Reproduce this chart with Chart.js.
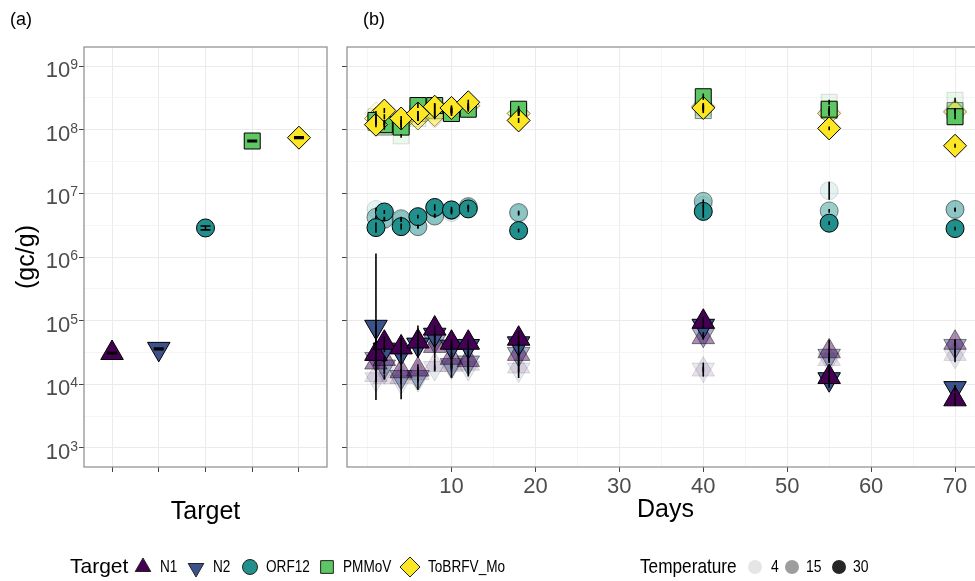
<!DOCTYPE html>
<html lang="en">
<head>
<meta charset="UTF-8">
<title>Concentration by target and day</title>
<script src="https://cdn.jsdelivr.net/npm/chart.js@4.4.1/dist/chart.umd.min.js"></script>
<style>
  body { margin: 0; background: #fff; width: 975px; height: 581px; overflow: hidden; position: relative; }
  canvas { position: absolute; top: 0; }
  #chartA { left: 0; }
  #chartB { left: 340px; }
</style>
</head>
<body>
<canvas id="chartA" width="975" height="581"></canvas>
<canvas id="chartB" width="644" height="540"></canvas>
<script>
// ---- data ----
const TARGETS = ['N1', 'N2', 'ORF12', 'PMMoV', 'ToBRFV_Mo'];
const TEMPS = [4, 15, 30];
const DAYS = [1, 2, 4, 6, 8, 10, 12, 18, 40, 55, 70];
const DAY_TICKS = [10, 20, 30, 40, 50, 60, 70];
const EXPONENTS = [3, 4, 5, 6, 7, 8, 9];

// panel (a): initial concentration per target, error as log10 half range
const initialValues = [3.1e4, 3.6e4, 2.86e6, 6.65e7, 7.5e7];
const initialErr = [0.012, 0.012, 0.03, 0.012, 0.012];

// panel (b): gc/g per day, one list per target and temperature
const n1_4 = [1.4e4, 1.3e4, 1.3e4, 1.5e4, 2.0e4, 2.0e4, 2.1e4, 1.9e4, 1.7e4, 2.5e4, 3.0e4];
const n1_15 = [2.2e4, 2.5e4, 1.6e4, 1.7e4, 4.0e4, 2.6e4, 2.4e4, 3.0e4, 5.5e4, 3.3e4, 4.5e4];
const n1_30 = [3.0e4, 4.5e4, 3.8e4, 4.7e4, 7.5e4, 4.5e4, 4.5e4, 5.2e4, 9.6e4, 1.3e4, 5.8e3];
const n2_4 = [1.2e4, 1.6e4, 1.1e4, 1.2e4, 1.8e4, 1.9e4, 1.8e4, 1.7e4, 1.7e4, 2.4e4, 2.8e4];
const n2_15 = [2.5e4, 1.9e4, 1.3e4, 1.3e4, 4.8e4, 2.0e4, 2.2e4, 3.0e4, 6.0e4, 2.8e4, 4.0e4];
const n2_30 = [8.0e4, 3.5e4, 3.2e4, 4.2e4, 6.0e4, 3.9e4, 4.0e4, 4.4e4, 8.3e4, 1.2e4, 8.7e3];
const orf_4 = [5.6e6, 4.0e6, 3.8e6, 3.0e6, 4.5e6, 5.0e6, 6.0e6, 4.8e6, 6.5e6, 1.1e7, 5.5e6];
const orf_15 = [4.2e6, 3.9e6, 4.0e6, 3.0e6, 4.4e6, 5.4e6, 6.2e6, 5.0e6, 7.5e6, 5.3e6, 5.6e6];
const orf_30 = [2.9e6, 5.1e6, 3.0e6, 4.3e6, 6.0e6, 5.5e6, 5.7e6, 2.6e6, 5.2e6, 3.4e6, 2.8e6];
const pmm_4 = [1.6e8, 1.3e8, 8.0e7, 1.5e8, 1.9e8, 2.0e8, 2.2e8, 1.9e8, 2.2e8, 2.7e8, 2.9e8];
const pmm_15 = [1.3e8, 1.1e8, 1.2e8, 1.8e8, 2.0e8, 1.9e8, 2.2e8, 2.0e8, 2.0e8, 2.0e8, 2.0e8];
const pmm_30 = [1.4e8, 1.2e8, 1.1e8, 2.4e8, 2.4e8, 1.8e8, 2.1e8, 2.1e8, 3.3e8, 2.1e8, 1.6e8];
const tob_4 = [1.8e8, 1.3e8, 1.3e8, 1.5e8, 1.6e8, 2.0e8, 2.3e8, 1.8e8, 2.4e8, 1.9e8, 2.0e8];
const tob_15 = [1.5e8, 1.6e8, 1.3e8, 1.5e8, 1.7e8, 2.1e8, 2.4e8, 1.8e8, 2.3e8, 1.8e8, 1.9e8];
const tob_30 = [1.2e8, 2.0e8, 1.5e8, 1.8e8, 2.3e8, 2.2e8, 2.7e8, 1.4e8, 2.2e8, 1.05e8, 5.6e7];

// error bars, log10 half range
const n1_4_err = [0.04, 0.04, 0.04, 0.04, 0.10, 0.20, 0.20, 0.18, 0.11, 0.04, 0.04];
const n1_15_err = [0.04, 0.04, 0.04, 0.04, 0.20, 0.20, 0.20, 0.20, 0.04, 0.18, 0.05];
const n1_30_err = [0.45, 0.10, 0.15, 0.25, 0.05, 0.05, 0.05, 0.12, 0.08, 0.17, 0.10];
const n2_4_err = [0.04, 0.04, 0.04, 0.04, 0.04, 0.04, 0.04, 0.04, 0.04, 0.04, 0.10];
const n2_15_err = [0.04, 0.12, 0.35, 0.20, 0.10, 0.04, 0.04, 0.04, 0.04, 0.04, 0.10];
const n2_30_err = [1.15, 0.04, 0.04, 0.15, 0.04, 0.05, 0.04, 0.04, 0.04, 0.04, 0.05];
const orf_4_err = [0.03, 0.03, 0.03, 0.03, 0.03, 0.03, 0.03, 0.03, 0.03, 0.14, 0.03];
const orf_15_err = [0.03, 0.03, 0.03, 0.03, 0.03, 0.03, 0.03, 0.03, 0.03, 0.03, 0.03];
const orf_30_err = [0.08, 0.03, 0.05, 0.03, 0.05, 0.05, 0.05, 0.03, 0.10, 0.03, 0.03];
const pmm_4_err = [0.04, 0.04, 0.03, 0.04, 0.04, 0.04, 0.04, 0.04, 0.04, 0.04, 0.04];
const pmm_15_err = [0.04, 0.04, 0.04, 0.04, 0.04, 0.04, 0.04, 0.04, 0.04, 0.04, 0.04];
const pmm_30_err = [0.04, 0.04, 0.04, 0.04, 0.04, 0.04, 0.04, 0.05, 0.05, 0.05, 0.04];
const tob_4_err = [0.04, 0.04, 0.04, 0.04, 0.04, 0.04, 0.04, 0.04, 0.04, 0.04, 0.04];
const tob_15_err = [0.04, 0.04, 0.04, 0.04, 0.04, 0.04, 0.04, 0.04, 0.04, 0.04, 0.04];
const tob_30_err = [0.04, 0.04, 0.04, 0.04, 0.04, 0.04, 0.04, 0.04, 0.05, 0.03, 0.03];

const series = {
  N1: { 4: [n1_4, n1_4_err], 15: [n1_15, n1_15_err], 30: [n1_30, n1_30_err] },
  N2: { 4: [n2_4, n2_4_err], 15: [n2_15, n2_15_err], 30: [n2_30, n2_30_err] },
  ORF12: { 4: [orf_4, orf_4_err], 15: [orf_15, orf_15_err], 30: [orf_30, orf_30_err] },
  PMMoV: { 4: [pmm_4, pmm_4_err], 15: [pmm_15, pmm_15_err], 30: [pmm_30, pmm_30_err] },
  ToBRFV_Mo: { 4: [tob_4, tob_4_err], 15: [tob_15, tob_15_err], 30: [tob_30, tob_30_err] }
};

// ---- style ----
const FONT = "'Liberation Sans', Arial, sans-serif";
const GREY_TEXT = '#4d4d4d';
const Y_MIN = Math.pow(10, 2.7), Y_MAX = Math.pow(10, 9.3);
const colors = { N1: '68,1,84', N2: '59,82,139', ORF12: '33,144,140', PMMoV: '93,200,99', ToBRFV_Mo: '253,231,37' };
const shapes = {
  N1: ['triangle', 0, 13], N2: ['triangle', 180, 13], ORF12: ['circle', 0, 9],
  PMMoV: ['rect', 0, 11.3], ToBRFV_Mo: ['rectRot', 0, 11.5]
};
const alphaFor = { 4: 0.12, 15: 0.45, 30: 1 };

Chart.defaults.font.family = FONT;
Chart.defaults.animation = false;

function rgba(rgb, a) { return 'rgba(' + rgb + ',' + a + ')'; }

function pointStyle(t, a) {
  const s = shapes[t];
  return {
    pointStyle: s[0], pointRotation: s[1], pointRadius: s[2], pointHoverRadius: s[2],
    backgroundColor: rgba(colors[t], a), borderColor: rgba('0,0,0', a), borderWidth: 1
  };
}

function gridStyle() {
  return {
    color: c => (c.tick && c.tick.main) ? '#ebebeb' : '#f3f3f3',
    lineWidth: c => (c.tick && c.tick.main) ? 1 : 0.8,
    tickColor: c => (c.tick && c.tick.main) ? '#444' : 'rgba(0,0,0,0)',
    tickLength: 5
  };
}

function yAxis(width, title) {
  return {
    type: 'logarithmic', min: Y_MIN, max: Y_MAX,
    afterBuildTicks: s => {
      const t = [];
      for (let e = 3; e <= 9; e += 0.5) t.push({ value: Math.pow(10, e), main: Number.isInteger(e) });
      s.ticks = t;
    },
    afterFit: s => { s.width = width; s.paddingTop = 0; s.paddingBottom = 0; },
    ticks: { display: false },
    grid: gridStyle(),
    border: { display: false },
    title: title
  };
}

// bottom axis boxes get a fixed height and no extra side padding
function fixX(s) {
  s.height = 73;
  s.paddingLeft = 0;
  s.paddingRight = 0;
}

// error bars drawn on top of the points
const errorBars = {
  id: 'errbars',
  afterDatasetsDraw(chart, args, opts) {
    const ctx = chart.ctx, xs = chart.scales.x, ys = chart.scales.y, a = chart.chartArea;
    ctx.save();
    ctx.beginPath(); ctx.rect(a.left, a.top, a.right - a.left, a.bottom - a.top); ctx.clip();
    ctx.strokeStyle = '#000';
    ctx.lineWidth = opts.lineWidth;
    chart.data.datasets.forEach(ds => {
      ds.data.forEach((p, i) => {
        const f = Math.pow(10, ds.errLog[i]);
        const px = xs.getPixelForValue(p.x);
        const y1 = ys.getPixelForValue(p.y / f), y2 = ys.getPixelForValue(p.y * f);
        ctx.beginPath();
        ctx.moveTo(px, y1); ctx.lineTo(px, y2);
        if (opts.cap) {
          ctx.moveTo(px - opts.cap, y1); ctx.lineTo(px + opts.cap, y1);
          ctx.moveTo(px - opts.cap, y2); ctx.lineTo(px + opts.cap, y2);
        }
        ctx.stroke();
      });
    });
    ctx.restore();
  }
};

const frame = {
  id: 'frame',
  afterDraw(chart) {
    const a = chart.chartArea, ctx = chart.ctx;
    ctx.save();
    ctx.strokeStyle = '#8a8a8a';
    ctx.lineWidth = 1.2;
    ctx.strokeRect(a.left, a.top, a.right - a.left, a.bottom - a.top);
    ctx.restore();
  }
};

function drawSymbol(ctx, style, rot, r, x, y) {
  Chart.helpers.drawPoint(ctx, { pointStyle: style, rotation: rot, radius: r, borderWidth: 1 }, x, y);
}

// y labels, panel tags and the shared legend
const page = {
  id: 'page',
  afterDraw(chart) {
    const ctx = chart.ctx, ys = chart.scales.y;
    ctx.save();
    ctx.fillStyle = GREY_TEXT;
    ctx.textAlign = 'left';
    ctx.textBaseline = 'alphabetic';
    EXPONENTS.forEach(e => {
      const py = ys.getPixelForValue(Math.pow(10, e));
      ctx.font = '22px ' + FONT;
      const w10 = ctx.measureText('10').width;
      ctx.font = '14px ' + FONT;
      const ws = ctx.measureText(String(e)).width;
      const x0 = 78 - w10 - ws;
      ctx.font = '22px ' + FONT;
      ctx.fillText('10', x0, py + 11);
      ctx.font = '14px ' + FONT;
      ctx.fillText(String(e), x0 + w10, py + 3);
    });

    ctx.fillStyle = '#000';
    ctx.font = '18px ' + FONT;
    ctx.textBaseline = 'middle';
    ctx.fillText('(a)', 10, 20);
    ctx.fillText('(b)', 363, 20);

    // legend
    const LY = 567;
    const txt = (s, x, size, sx) => {
      ctx.save();
      ctx.translate(x, LY);
      ctx.scale(sx, 1);
      ctx.font = size + 'px ' + FONT;
      ctx.fillStyle = '#000';
      ctx.textBaseline = 'middle';
      ctx.fillText(s, 0, 0);
      ctx.restore();
    };
    txt('Target', 70, 21, 1.0);
    const symX = [143, 196, 250, 327, 410];
    const labX = [160, 213, 266, 343, 428];
    const symR = [9, 9, 7.5, 9, 10];
    TARGETS.forEach((t, i) => {
      ctx.fillStyle = rgba(colors[t], 1);
      ctx.strokeStyle = '#222';
      ctx.lineWidth = 1;
      drawSymbol(ctx, shapes[t][0], shapes[t][1], symR[i], symX[i], LY + (t === 'N2' ? 1 : 0));
      txt(t, labX[i], 17, 0.8);
    });
    txt('Temperature', 640, 21, 0.82);
    const tX = [755, 792, 839], tLab = [771, 806, 853];
    TEMPS.forEach((tp, i) => {
      ctx.fillStyle = rgba('0,0,0', alphaFor[tp] * 0.85);
      ctx.beginPath();
      ctx.arc(tX[i], LY, 7, 0, Math.PI * 2);
      ctx.fill();
      txt(String(tp), tLab[i], 17, 0.82);
    });
    ctx.restore();
  }
};

// ---- panel (a) ----
new Chart('chartA', {
  type: 'scatter',
  data: {
    datasets: TARGETS.map((t, i) => Object.assign({
      label: t,
      data: [{ x: i + 1, y: initialValues[i] }],
      errLog: [initialErr[i]]
    }, pointStyle(t, 1)))
  },
  options: {
    responsive: false,
    layout: { autoPadding: false, padding: { top: 47, left: 0, right: 648, bottom: 41 } },
    plugins: { legend: { display: false }, tooltip: { enabled: false }, errbars: { cap: 5, lineWidth: 1.6 } },
    scales: {
      x: {
        type: 'linear', min: 0.4, max: 5.6,
        afterBuildTicks: s => { s.ticks = TARGETS.map((t, i) => ({ value: i + 1, main: true })); },
        afterFit: fixX,
        ticks: { display: false },
        grid: gridStyle(),
        border: { display: false },
        title: { display: true, text: 'Target', color: '#000', font: { size: 25 }, padding: { top: 0, bottom: 13 } }
      },
      y: yAxis(84, { display: true, text: '(gc/g)', color: '#000', font: { size: 25 }, padding: { top: 12, bottom: 0 } })
    }
  },
  plugins: [errorBars, frame, page]
});

// ---- panel (b) ----
const drawOrder = ['N2', 'N1', 'ORF12', 'PMMoV', 'ToBRFV_Mo'];
const datasetsB = [];
TEMPS.forEach(tp => {
  drawOrder.forEach(t => {
    const vals = series[t][tp][0], errs = series[t][tp][1];
    datasetsB.push(Object.assign({
      label: t + ' ' + tp,
      data: DAYS.map((d, i) => ({ x: d, y: vals[i] })),
      errLog: errs
    }, pointStyle(t, alphaFor[tp])));
  });
});
// first dataset is drawn last in Chart.js, so give the bottom layers the highest order
datasetsB.forEach((ds, i) => { ds.order = datasetsB.length - i; });

new Chart('chartB', {
  type: 'scatter',
  data: { datasets: datasetsB },
  options: {
    responsive: false,
    layout: { autoPadding: false, padding: { top: 47, left: 0, right: 0, bottom: 0 } },
    plugins: { legend: { display: false }, tooltip: { enabled: false }, errbars: { cap: 0, lineWidth: 1.6 } },
    scales: {
      x: {
        type: 'linear', min: -2.45, max: 73.45,
        afterBuildTicks: s => {
          const t = [];
          for (let d = 0; d <= 70; d += 5) t.push({ value: d, main: DAY_TICKS.includes(d) });
          s.ticks = t;
        },
        afterFit: fixX,
        ticks: {
          color: GREY_TEXT, font: { size: 22 }, padding: 2, maxRotation: 0, autoSkip: false,
          callback: v => DAY_TICKS.includes(v) ? String(v) : ''
        },
        grid: gridStyle(),
        border: { display: false },
        title: { display: true, text: 'Days', color: '#000', font: { size: 25 }, padding: { top: 0, bottom: 15 } }
      },
      y: yAxis(7, { display: false })
    }
  },
  plugins: [errorBars, frame]
});
</script>
</body>
</html>
